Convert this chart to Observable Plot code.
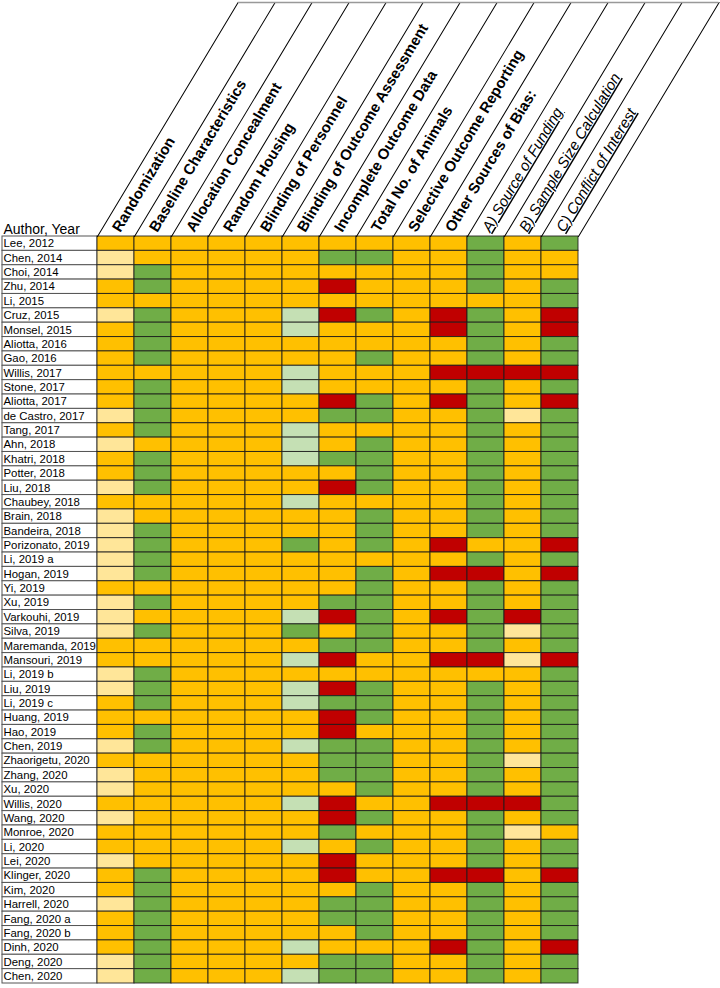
<!DOCTYPE html>
<html><head><meta charset="utf-8">
<script src="https://cdn.jsdelivr.net/npm/d3@7"></script>
<script src="https://cdn.jsdelivr.net/npm/@observablehq/plot@0.6"></script>
<style>body{margin:0;background:#fff}</style>
</head><body><div id="chart"></div>
<script>
const authors = ["Lee, 2012","Chen, 2014","Choi, 2014","Zhu, 2014","Li, 2015","Cruz, 2015","Monsel, 2015","Aliotta, 2016","Gao, 2016","Willis, 2017","Stone, 2017","Aliotta, 2017","de Castro, 2017","Tang, 2017","Ahn, 2018","Khatri, 2018","Potter, 2018","Liu, 2018","Chaubey, 2018","Brain, 2018","Bandeira, 2018","Porizonato, 2019","Li, 2019 a","Hogan, 2019","Yi, 2019","Xu, 2019","Varkouhi, 2019","Silva, 2019","Maremanda, 2019","Mansouri, 2019","Li, 2019 b","Liu, 2019","Li, 2019 c","Huang, 2019","Hao, 2019","Chen, 2019","Zhaorigetu, 2020","Zhang, 2020","Xu, 2020","Willis, 2020","Wang, 2020","Monroe, 2020","Li, 2020","Lei, 2020","Klinger, 2020","Kim, 2020","Harrell, 2020","Fang, 2020 a","Fang, 2020 b","Dinh, 2020","Deng, 2020","Chen, 2020"];
const mainDomains = ["Randomization","Baseline Characteristics","Allocation Concealment","Random Housing","Blinding of Personnel","Blinding of Outcome Assessment","Incomplete Outcome Data","Total No. of Animals","Selective Outcome Reporting","Other Sources of Bias:"];
const subDomains = ["A) Source of Funding","B) Sample Size Calculation","C) Conflict of Interest"];
const domains = [...mainDomains, ...subDomains];
// one string per author, one letter per domain
const ratings = [
"OOOOOOOOOOGOG","YOOOOOGGOOGOO","YGOOOOOOOOGOO","OGOOOOROOOGOG","OOOOOOOOOOOOG",
"YGOOOLRGORGOR","OGOOOLOOORGOR","OGOOOOOOOOGOG","OGOOOOOGOOGOG","OOOOOLOOORRRR",
"OGOOOLOOOOGOG","OGOOOORGORGOR","YGOOOOGGOOGYG","OGOOOLOOOOGOG","YOOOOLOGOOGOG",
"OGOOOLGGOOGOG","OGOOOOOGOOGOG","YGOOOORGOOGOG","OOOOOLOOOOGOG","YOOOOOOGOOGOG",
"YGOOOOOGOOGOG","YGOOOGOGOROOR","YGOOOOOOOOGOG","YGOOOOOGORROR","OOOOOOOGOOGOG",
"YGOOOOGGOOGOG","YOOOOLRGORGRG","YGOOOGOGOOGYG","OOOOOOGGOOGOG","OOOOOLROORRYR",
"YGOOOOOOOOOOG","YGOOOLRGOOGOG","OGOOOLGGOOGOG","OOOOOORGOOGOG","OGOOOOROOOGOG",
"YGOOOLGGOOGOG","OOOOOOGGOOGYG","YOOOOOGGOOGOG","YOOOOOOGOOGOG","OOOOOLROORRRG",
"YOOOOORGOOGOG","OOOOOOGOOOGYO","OOOOOLOGOOGOG","YOOOOOROOOGOG","OGOOOOROORROR",
"OGOOOOOGOOGOG","YGOOOOGGOOGOG","OGOOOOGGOOGOG","OGOOOOOGOOGOG","OGOOOLOOORGOR",
"YGOOOOGGOOGOG","YGOOOLGGOOGOG"];
const ratingCodes = ["O","G","R","Y","L"];
const ratingColors = ["#FFC000","#70AD47","#C00000","#FFE699","#C5E0B4"];

const cells = authors.flatMap((a, i) => domains.map((d, j) => ({author: a, domain: d, rating: ratings[i][j]})));

const W = 720, H = 988, ML = 97, MR = 142, MT = 236, MB = 5;
const bw = (W - ML - MR) / domains.length;
const lineShape = {draw(context, l) { context.moveTo(0, 0); context.lineTo(0, -l); }};
const font = "Arial, 'Liberation Sans', sans-serif";

const chart = Plot.plot({
  width: W, height: H,
  marginLeft: ML, marginRight: MR, marginTop: MT, marginBottom: MB,
  x: {type: "band", domain: domains, padding: 0, round: false, axis: null},
  y: {type: "band", domain: authors, padding: 0, round: false, axis: null},
  color: {type: "ordinal", domain: ratingCodes, range: ratingColors},
  style: {fontFamily: font, background: "#fff", color: "#000"},
  marks: [
    Plot.cell(authors, {x: () => domains[0], y: d => d, fill: "white", stroke: "#555", strokeWidth: 1, insetLeft: -(ML - 2), insetRight: bw}),
    Plot.cell(cells, {x: "domain", y: "author", fill: "rating", stroke: "#1a1a1a", strokeOpacity: 0.85, strokeWidth: 1}),
    Plot.text(authors, {y: d => d, frameAnchor: "left", dx: -(ML - 3), textAnchor: "start", fontSize: 11.4, fill: "#000"}),
    Plot.text(["Author, Year"], {text: d => d, frameAnchor: "top-left", dx: -(ML - 3), dy: -3, lineAnchor: "bottom", fontSize: 14, fill: "#000"}),
    Plot.vector(domains, {x: d => d, frameAnchor: "top", dx: -bw / 2, rotate: 31, length: 273, anchor: "start", shape: lineShape, stroke: "#000", strokeWidth: 1}),
    Plot.vector([domains[domains.length - 1]], {x: d => d, frameAnchor: "top", dx: bw / 2, rotate: 31, length: 273, anchor: "start", shape: lineShape, stroke: "#000", strokeWidth: 1}),
    Plot.vector([domains[0]], {x: d => d, frameAnchor: "top", dx: -bw / 2 + 140.6, dy: -234, rotate: 90, length: 480, anchor: "start", shape: lineShape, stroke: "#999", strokeWidth: 1.5}),
    Plot.text(mainDomains, {x: d => d, text: d => d, frameAnchor: "top", rotate: -59, textAnchor: "start", lineAnchor: "middle", dx: 0, dy: -6, fontSize: 15, fontWeight: "bold", fill: "#000"}),
    Plot.text(subDomains, {x: d => d, text: d => d, frameAnchor: "top", rotate: -59, textAnchor: "start", lineAnchor: "middle", dx: 0, dy: -6, fontSize: 15, fontStyle: "italic", fill: "#000"})
  ]
});
d3.select(chart).selectAll("text").filter(function() { return subDomains.includes(this.textContent); }).attr("text-decoration", "underline");
document.getElementById("chart").appendChild(chart);
</script>
</body></html>
